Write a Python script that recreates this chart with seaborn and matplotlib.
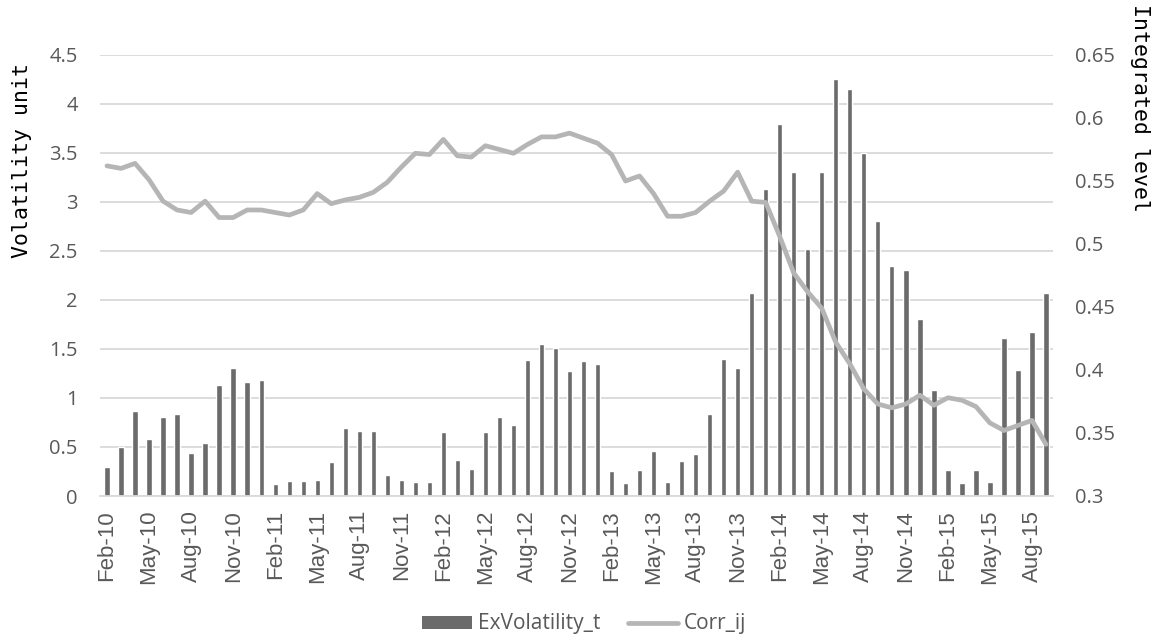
import numpy as np
import pandas as pd
import matplotlib
matplotlib.use("Agg")
import matplotlib.pyplot as plt
from matplotlib.ticker import FuncFormatter
from matplotlib.patches import Patch
from matplotlib.lines import Line2D
import seaborn as sns

# Monthly observations, Feb-2010 .. Sep-2015
months = list(pd.date_range("2010-02-01", periods=68, freq="MS").strftime("%b-%y"))

ex_volatility = [
    0.30, 0.50, 0.87, 0.58, 0.81, 0.84, 0.44, 0.54, 1.13, 1.31, 1.16, 1.18,
    0.12, 0.15, 0.15, 0.16, 0.35, 0.69, 0.66, 0.66, 0.21, 0.16, 0.14, 0.14,
    0.65, 0.37, 0.28, 0.65, 0.81, 0.72, 1.39, 1.55, 1.51, 1.28, 1.38, 1.35,
    0.26, 0.13, 0.27, 0.46, 0.14, 0.36, 0.43, 0.84, 1.40, 1.31, 2.07, 3.13,
    3.80, 3.31, 2.52, 3.31, 4.25, 4.15, 3.50, 2.81, 2.35, 2.31, 1.81, 1.08,
    0.27, 0.13, 0.27, 0.14, 1.61, 1.29, 1.67, 2.07,
]

corr_ij = [
    0.562, 0.560, 0.564, 0.551, 0.534, 0.527, 0.525, 0.534, 0.521, 0.521, 0.527, 0.527,
    0.525, 0.523, 0.527, 0.540, 0.532, 0.535, 0.537, 0.541, 0.549, 0.561, 0.572, 0.571,
    0.583, 0.570, 0.569, 0.578, 0.575, 0.572, 0.579, 0.585, 0.585, 0.588, 0.584, 0.580,
    0.571, 0.550, 0.554, 0.540, 0.522, 0.522, 0.525, 0.534, 0.542, 0.557, 0.534, 0.533,
    0.506, 0.477, 0.462, 0.449, 0.422, 0.405, 0.385, 0.373, 0.370, 0.373, 0.380, 0.372,
    0.378, 0.376, 0.371, 0.358, 0.352, 0.356, 0.360, 0.341,
]

left_ticks = [0, 0.5, 1, 1.5, 2, 2.5, 3, 3.5, 4, 4.5]
right_ticks = [0.3, 0.35, 0.4, 0.45, 0.5, 0.55, 0.6, 0.65]

BAR_COLOR = "#6b6b6b"
LINE_COLOR = "#b5b5b5"
GRID_COLOR = "#d9d9d9"
TEXT_COLOR = "#595959"

sns.set_theme(style="white")
plt.rcParams["font.family"] = ["Open Sans", "DejaVu Sans"]

df = pd.DataFrame({"month": months, "vol": ex_volatility, "corr": corr_ij})
df["pos"] = np.arange(len(df))

fig = plt.figure(figsize=(11.6, 6.43), dpi=100)
ax = fig.add_axes([100 / 1160, 1 - 496 / 643, 953 / 1160, 441 / 643])

sns.barplot(data=df, x="month", y="vol", order=months, color=BAR_COLOR,
            saturation=1, width=0.38, ax=ax, zorder=2)
ax.set_xlim(-0.5, len(months) - 0.5)
ax.set_ylim(left_ticks[0], left_ticks[-1])
ax.set_yticks(left_ticks)
ax.yaxis.set_major_formatter(FuncFormatter(lambda v, _: f"{v:g}"))
ax.grid(axis="y", color=GRID_COLOR, linewidth=1.3, zorder=0)
ax.set_axisbelow(True)
ax.set_xlabel("")
ax.set_ylabel("")

ax.set_xticks(range(0, len(months), 3))
ax.set_xticklabels(months[::3], rotation=90, fontfamily="Liberation Sans",
                   fontsize=16, color=TEXT_COLOR, ha="center", va="top")
ax.tick_params(axis="x", length=0, pad=10)
ax.tick_params(axis="y", length=0, pad=16, labelsize=14.5, labelcolor=TEXT_COLOR)

for side in ["top", "left", "right"]:
    ax.spines[side].set_visible(False)
ax.spines["bottom"].set_color(GRID_COLOR)
ax.spines["bottom"].set_linewidth(1.3)

ax2 = ax.twinx()
sns.lineplot(data=df, x="pos", y="corr", color=LINE_COLOR, linewidth=3.4,
             ax=ax2, legend=False)
ax2.set_xlim(-0.5, len(months) - 0.5)
ax2.set_ylim(right_ticks[0], right_ticks[-1])
ax2.set_yticks(right_ticks)
ax2.yaxis.set_major_formatter(FuncFormatter(lambda v, _: f"{v:g}"))
ax2.tick_params(axis="y", length=0, pad=16, labelsize=14.5, labelcolor=TEXT_COLOR)
ax2.set_xlabel("")
ax2.set_ylabel("")
ax2.grid(False)
for side in ax2.spines:
    ax2.spines[side].set_visible(False)

# Axis titles
fig.text(22 / 1160, 1 - 160 / 643, "Volatility unit", rotation=90,
         ha="center", va="center", fontsize=15.5, color="black",
         fontfamily="DejaVu Sans Mono")
fig.text(1140 / 1160, 1 - 108 / 643, "Integrated level", rotation=-90,
         ha="center", va="center", fontsize=15.5, color="black",
         fontfamily="DejaVu Sans Mono")

handles = [Patch(facecolor=BAR_COLOR, edgecolor="none"),
           Line2D([0], [0], color=LINE_COLOR, linewidth=3.4)]
fig.legend(handles, ["ExVolatility_t", "Corr_ij"], loc="center",
           bbox_to_anchor=(584 / 1160, 1 - 624 / 643), ncol=2, frameon=False,
           fontsize=15, handlelength=2.4, handleheight=0.6, handletextpad=0.3,
           columnspacing=1.3, labelcolor=TEXT_COLOR)

fig.savefig("out.png", dpi=100)
